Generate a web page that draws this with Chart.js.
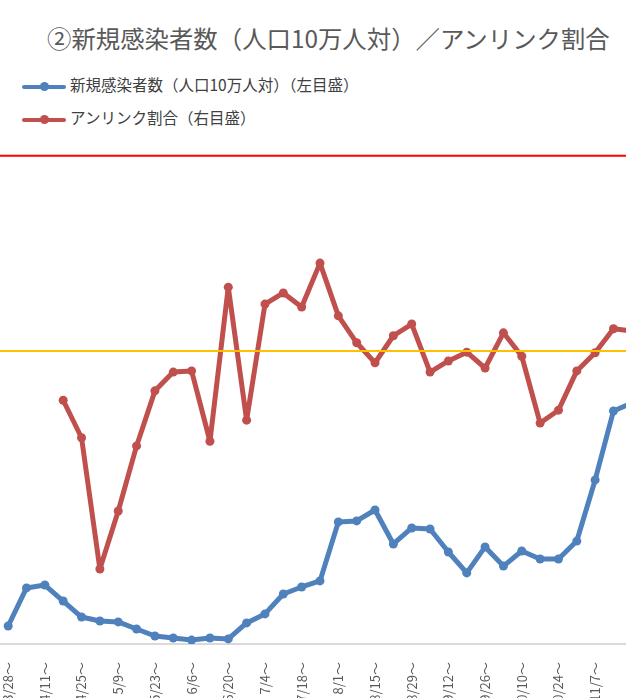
<!DOCTYPE html>
<html lang="ja">
<head>
<meta charset="UTF-8">
<title>新規感染者数／アンリンク割合</title>
<script src="https://cdn.jsdelivr.net/npm/chart.js"></script>
<style>
  html, body { margin: 0; padding: 0; background: #fff; overflow: hidden; width: 626px; height: 698px; }
  body { position: relative; font-family: "Noto Sans CJK JP", "Noto Sans", sans-serif; }
  #chart { position: absolute; left: -40px; top: 0; }
  .title { position: absolute; left: 47px; top: 20px; font-size: 24.4px; color: #595959; white-space: nowrap; }
  .cut { position: absolute; left: -13px; top: 26px; font-size: 16px; color: #595959; }
  .legend { position: absolute; left: 22px; font-size: 15.5px; color: #404040; white-space: nowrap; }
  .legend i { display: inline-block; position: relative; width: 44px; height: 4px; vertical-align: middle; margin-right: 4px; border-radius: 2px; }
  .legend i b { position: absolute; left: 18px; top: -3px; width: 9px; height: 9px; border-radius: 50%; background: inherit; }
</style>
</head>
<body>

<div class="cut">）</div>
<div class="title">②新規感染者数（人口10万人対）／アンリンク割合</div>
<div class="legend" style="top:73px"><i style="background:#4f81bd"><b></b></i>新規感染者数（人口10万人対）（左目盛）</div>
<div class="legend" style="top:106px"><i style="background:#c0504d"><b></b></i>アンリンク割合（右目盛）</div>

<canvas id="chart" width="700" height="704"></canvas>

<script>
// 週の開始日
var weeks = ["3/28", "4/4", "4/11", "4/18", "4/25", "5/2", "5/9", "5/16", "5/23", "5/30",
  "6/6", "6/13", "6/20", "6/27", "7/4", "7/11", "7/18", "7/25", "8/1", "8/8",
  "8/15", "8/22", "8/29", "9/5", "9/12", "9/19", "9/26", "10/3", "10/10", "10/17",
  "10/24", "10/31", "11/7", "11/14", "11/21"]

// 新規感染者数（人口10万人対）
var infections = [0.92, 2.87, 3.02, 2.20, 1.38, 1.18, 1.13, 0.77, 0.41, 0.31,
  0.20, 0.31, 0.26, 1.08, 1.54, 2.56, 2.92, 3.23, 6.25, 6.30,
  6.86, 5.12, 5.94, 5.89, 4.71, 3.64, 4.97, 3.99, 4.76, 4.35,
  4.35, 5.27, 8.40, 11.93, 12.34]

// アンリンク割合（%）
var unlinked = [null, null, null, 41.6, 35.2, 12.8, 22.7, 33.8, 43.2, 46.4,
  46.6, 34.6, 60.9, 38.2, 58.0, 59.9, 57.5, 65.0, 56.0, 51.4,
  48.0, 52.6, 54.6, 46.4, 48.3, 49.8, 47.1, 53.1, 49.1, 37.7,
  39.9, 46.6, 49.7, 53.8, 53.4]

// 目安の線
var leftLine = 25    // 左目盛
var rightLine = 50   // 右目盛 (%)

var tickLabels = weeks.map(function (w, i) { return i % 2 == 0 ? w + "～" : "" })

// 基準線を描く
var refLines = {
  id: "refLines",
  afterDatasetsDraw: function (chart) {
    var ctx = chart.ctx
    var area = chart.chartArea
    var lines = [
      { y: chart.scales.y.getPixelForValue(leftLine), color: "#ff0000" },
      { y: chart.scales.y1.getPixelForValue(rightLine), color: "#ffc000" }
    ]
    ctx.save()
    ctx.lineWidth = 2
    lines.forEach(function (l) {
      ctx.strokeStyle = l.color
      ctx.beginPath()
      ctx.moveTo(area.left, l.y)
      ctx.lineTo(area.right, l.y)
      ctx.stroke()
    })
    ctx.restore()
  }
}

new Chart(document.getElementById("chart"), {
  type: "line",
  data: {
    labels: weeks,
    datasets: [
      {
        label: "新規感染者数（人口10万人対）（左目盛）",
        data: infections,
        yAxisID: "y",
        borderColor: "#4f81bd",
        backgroundColor: "#4f81bd",
        borderWidth: 5,
        borderJoinStyle: "round",
        borderCapStyle: "round",
        pointRadius: 4.5,
        pointBorderWidth: 0,
        tension: 0
      },
      {
        label: "アンリンク割合（右目盛）",
        data: unlinked,
        yAxisID: "y1",
        borderColor: "#c0504d",
        backgroundColor: "#c0504d",
        borderWidth: 5,
        borderJoinStyle: "round",
        borderCapStyle: "round",
        pointRadius: 4.5,
        pointBorderWidth: 0,
        tension: 0
      }
    ]
  },
  options: {
    responsive: false,
    animation: false,
    devicePixelRatio: 1,
    layout: { padding: { left: 39, right: 19, top: 58, bottom: 0 } },
    plugins: {
      legend: { display: false },
      title: { display: false },
      tooltip: { enabled: false }
    },
    scales: {
      x: {
        offset: true,
        grid: { display: false },
        border: { display: true, color: "#d9d9d9", width: 2 },
        ticks: {
          autoSkip: false,
          minRotation: 90,
          maxRotation: 90,
          padding: 10,
          color: "#595959",
          font: { family: "Noto Sans CJK JP", size: 13 },
          callback: function (v, i) { return tickLabels[i] }
        },
        afterFit: function (scale) { scale.height = 60 }
      },
      y: { display: false, min: 0, max: 30 },
      y1: { display: false, min: 0, max: 100 }
    }
  },
  plugins: [refLines]
})
</script>
</body>
</html>
